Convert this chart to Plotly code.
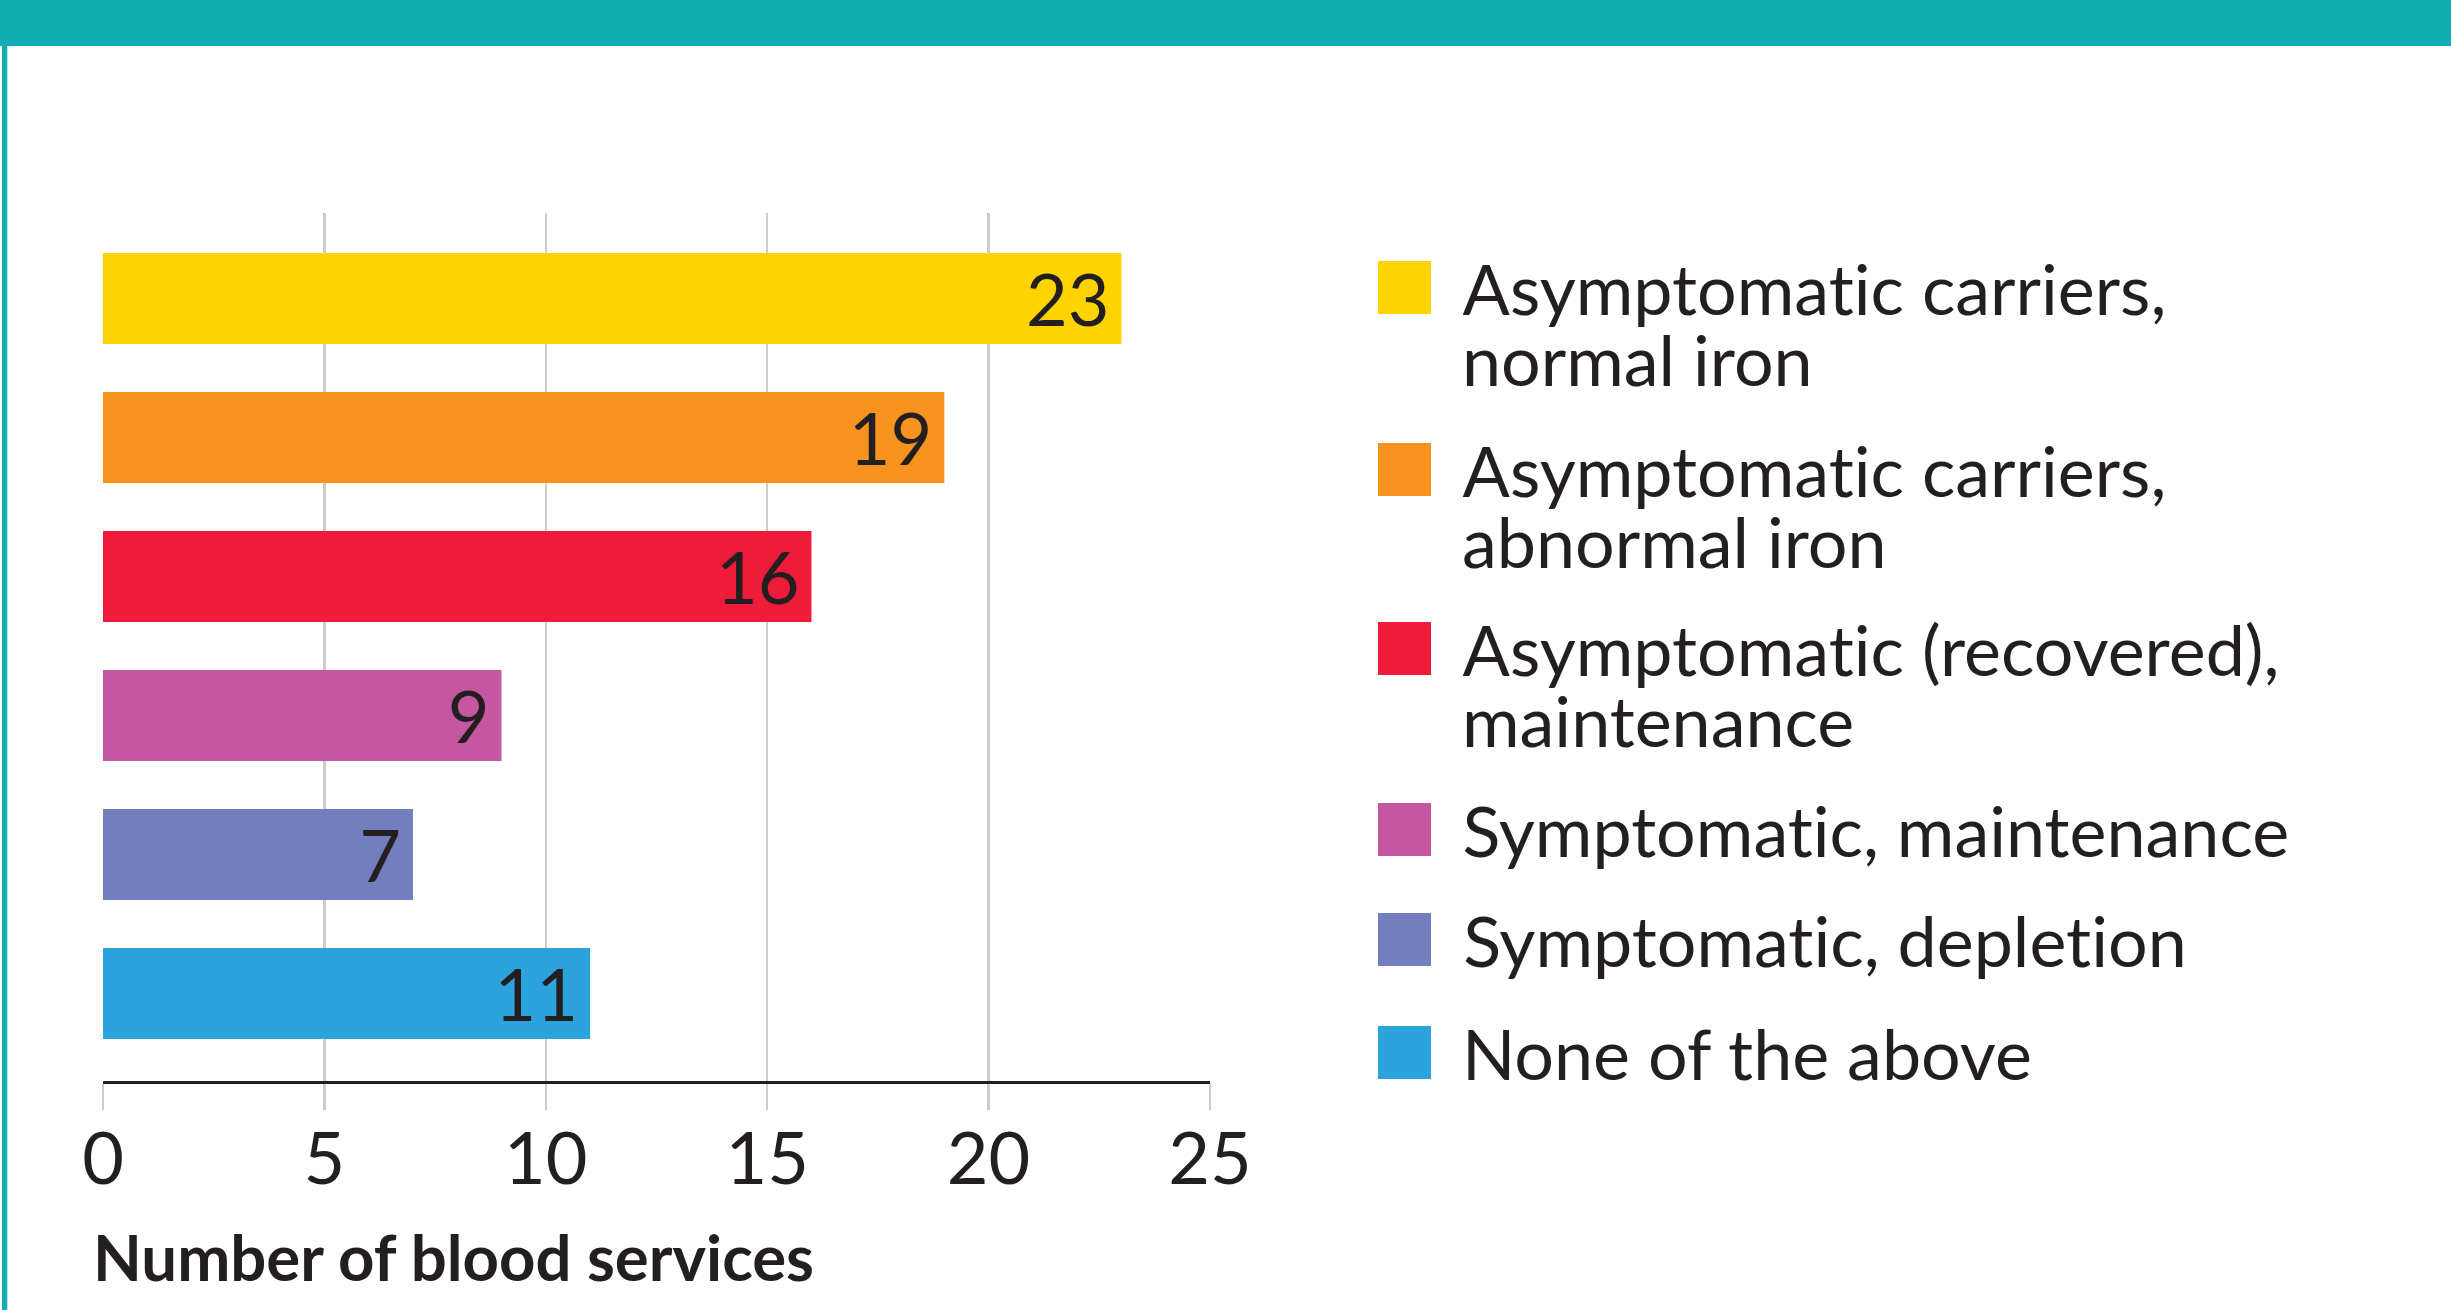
import plotly.graph_objects as go

# ---- data ----
categories = [
    "Asymptomatic carriers, normal iron",
    "Asymptomatic carriers, abnormal iron",
    "Asymptomatic (recovered), maintenance",
    "Symptomatic, maintenance",
    "Symptomatic, depletion",
    "None of the above",
]
legend_lines = [
    ["Asymptomatic carriers,", "normal iron"],
    ["Asymptomatic carriers,", "abnormal iron"],
    ["Asymptomatic (recovered),", "maintenance"],
    ["Symptomatic, maintenance"],
    ["Symptomatic, depletion"],
    ["None of the above"],
]
values = [23, 19, 16, 9, 7, 11]
colors = ["#FDD302", "#F7931E", "#EE1C3A", "#C457A0", "#727EBE", "#2CA3DC"]
x_ticks = [0, 5, 10, 15, 20, 25]
x_title = "Number of blood services"

# ---- layout geometry (pixels) ----
W, H = 2451, 1310
L, R = 103, 1210          # plot x extent
T, B = 213, 1081          # plot y extent
FONT = "Lato"
TXT = "#231F20"
TEAL = "#12ADB2"


def px(x):
    return (x - L) / (R - L)


def py(y):
    return (B - y) / (B - T)


fig = go.Figure()
fig.add_trace(go.Bar(
    y=categories, x=values, orientation="h",
    marker=dict(color=colors, line=dict(width=0)),
    width=0.655,
    texttemplate="%{x}\u2009", textposition="inside", insidetextanchor="end",
    constraintext="none", textangle=0,
    textfont=dict(family=FONT, size=72, color=TXT),
    showlegend=False, hoverinfo="skip",
))

shapes = []
annotations = []
# teal frame
shapes.append(dict(type="rect", xref="paper", yref="paper", x0=px(0), x1=px(W), y0=py(46), y1=py(0),
                   fillcolor=TEAL, line=dict(width=0), layer="above"))
shapes.append(dict(type="rect", xref="paper", yref="paper", x0=px(2), x1=px(7.3), y0=py(H), y1=py(0),
                   fillcolor=TEAL, line=dict(width=0), layer="above"))

# legend
sq_tops = [261, 443, 622, 803, 913, 1026]
SQ = 53
for lines, col, top in zip(legend_lines, colors, sq_tops):
    shapes.append(dict(type="rect", xref="paper", yref="paper",
                       x0=px(1378), x1=px(1378 + SQ), y0=py(top + SQ), y1=py(top),
                       fillcolor=col, line=dict(width=0)))
    for i, line in enumerate(lines):
        cap_mid = top + SQ / 2 + i * 71
        annotations.append(dict(xref="paper", yref="paper", x=px(1460), y=py(cap_mid),
                                xanchor="left", yanchor="middle", showarrow=False,
                                text=line, font=dict(family=FONT, size=70, color=TXT)))

# axis title
annotations.append(dict(xref="paper", yref="paper", x=px(91), y=py(1256),
                        xanchor="left", yanchor="middle", showarrow=False,
                        text="<b>" + x_title + "</b>",
                        font=dict(family=FONT, size=63.5, color=TXT)))

fig.update_layout(
    width=W, height=H,
    margin=dict(l=L, r=W - R, t=T, b=H - B, pad=0),
    paper_bgcolor="white", plot_bgcolor="white",
    xaxis=dict(range=[0, 25], tickvals=x_ticks, showgrid=True, gridcolor="#CCCCCC", gridwidth=2.5,
               zeroline=False, showline=True, linecolor=TXT, linewidth=2.5,
               ticks="outside", ticklen=26, tickwidth=2.5, tickcolor="#CCCCCC",
               ticklabelstandoff=-12,
               tickfont=dict(family=FONT, size=72, color=TXT), fixedrange=True),
    yaxis=dict(range=[5.63, -0.615], showgrid=False, zeroline=False, showticklabels=False,
               showline=False, ticks="", fixedrange=True),
    shapes=shapes, annotations=annotations,
    bargap=0.345,
)

post = (
    "var s=document.createElement('style');"
    "s.textContent='html,body{margin:0 !important;padding:0 !important;overflow:hidden !important;}"
    " ::-webkit-scrollbar{display:none;width:0;height:0;}"
    " .plotly-graph-div{position:fixed !important;left:0;top:0;}"
    " text{font-variant-ligatures:none !important;font-feature-settings:\"liga\" 0,\"clig\" 0 !important;}';"
    "document.head.appendChild(s);"
)
fig.write_html("out.html", config={"displayModeBar": False, "staticPlot": True}, post_script=post)
